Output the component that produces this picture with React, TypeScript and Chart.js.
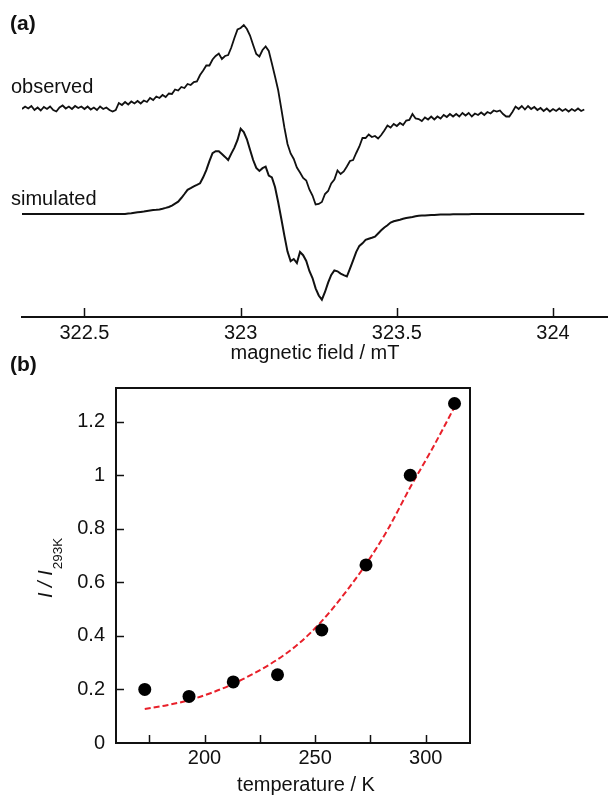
import React, { useEffect, useRef } from 'react';
import { Chart, registerables } from 'chart.js';

Chart.register(...registerables);

const FONT = '"Liberation Sans", Arial, Helvetica, sans-serif';
const INK = '#111111';

// ---------- Panel (a): EPR spectra ----------
const FIELD_START = 322.3; // mT, first sample
const FIELD_STEP = 0.01; // mT between samples
const OBSERVED = [
  1, 3.5, 1.5, 4, 0, 2.5, -0.5, 3, 1, 3.5,
  0, -1.5, 2.5, 4.5, 1.5, 3.5, 1, 4, 2, 3.5,
  1, 3.5, 0.5, 2.5, 0, 3.5, 1, 2.5, 0, -1.5,
  0, 7, 5, 8, 5.5, 8.5, 6.5, 9, 6.5, 9.5,
  8, 12, 10, 13.5, 12, 15, 13, 16.5, 16, 20.5,
  19.5, 23, 22, 26, 25, 28, 28.5, 35, 39.5, 44.5,
  44.5, 50.5, 54, 56.5, 51, 54, 55, 62.5, 72, 80.5,
  82, 85, 81, 74.5, 65, 56, 53.5, 60, 63.5, 59,
  46.5, 33.5, 20, 1.5, -17.5, -34, -43.5, -49, -57.5, -62.5,
  -68, -70.5, -79.5, -85.5, -94.5, -94, -92, -84, -81, -73.5,
  -69.5, -60.5, -64, -61.5, -56.5, -51, -50, -43, -36.5, -28,
  -28, -24.5, -27, -26, -28.5, -25, -20.5, -15.5, -17.5, -14,
  -16, -13, -15, -10.5, -10, -4, -8.5, -9, -11, -7.5,
  -9.5, -6.5, -9.5, -6.5, -8.5, -5, -7, -4, -6.5, -4,
  -6.5, -3, -5.5, -3, -6.5, -3.5, -5, -2.5, -5, -2,
  -3.5, -0.5, -1.5, -0.5, -4, -6.5, -6.5, -2, 3.5, 1,
  4, 0.5, 4, 1, 3, 0, 2, -1, 1.5, -1.5,
  1, -1, 1.5, -1, 1, -1.5, 1, -1, 1.5, -1, 0.5,
];
const SIMULATED = [
  0, 0, 0, 0, 0, 0, 0, 0, 0, 0,
  0, 0, 0, 0, 0, 0, 0, 0, 0, 0,
  0, 0, 0, 0, 0, 0, 0, 0, 0, 0,
  0, 0, 0, 0, 0.4, 0.8, 1.3, 1.7, 2.1, 2.5,
  3, 3.5, 3.9, 4.2, 4.6, 5.3, 6.1, 7, 8.4, 10.4,
  12.3, 16, 20, 24.2, 25.9, 27.7, 29.1, 30.7, 36.7, 43.8,
  52.8, 60.8, 62.8, 62.7, 60, 57.1, 54, 60.4, 66.4, 74.1,
  85.2, 82, 74.7, 64.3, 54, 46.1, 43, 45.8, 47.3, 38.5,
  36.6, 27, 12, -4.5, -21.6, -37.6, -47.1, -45, -49, -38,
  -41.2, -47, -57, -64, -74.3, -81.5, -85.7, -78, -68.7, -60.9,
  -56.5, -57.3, -59.6, -61.1, -62.5, -54.6, -46.4, -37.8, -31.9, -29.3,
  -25.8, -24.8, -23.8, -22.7, -19.5, -16.3, -13.5, -11.2, -8.6, -7.3,
  -6.5, -5.7, -4.8, -4.1, -3.5, -2.9, -2.2, -1.7, -1.5, -1.4,
  -1.2, -1, -0.9, -0.7, -0.6, -0.5, -0.5, -0.4, -0.3, -0.3,
  -0.3, -0.2, -0.2, -0.2, -0.1, -0.1, 0, 0, 0, 0,
  0, 0, 0, 0, 0, 0, 0, 0, 0, 0,
  0, 0, 0, 0, 0, 0, 0, 0, 0, 0,
  0, 0, 0, 0, 0, 0, 0, 0, 0, 0, 0,
];
const FIELD = OBSERVED.map((_, i) => +(FIELD_START + i * FIELD_STEP).toFixed(2));
const FIELD_TICKS = [322.5, 323, 323.5, 324];
const OBS_OFFSET = 207;
const SIM_OFFSET = 103;

// ---------- Panel (b): intensity vs temperature ----------
const TEMPERATURE = [173, 193, 213, 233, 253, 273, 293, 313];
const RATIO = [0.2, 0.174, 0.228, 0.255, 0.422, 0.665, 1.0, 1.268];
const FIT_TEMPERATURE = [173, 183, 193, 203, 213, 223, 233, 243, 253, 263, 273, 283, 293, 303, 313];
const FIT_RATIO = [0.127, 0.141, 0.16, 0.187, 0.221, 0.263, 0.312, 0.374, 0.455, 0.555, 0.668, 0.8, 0.955, 1.1, 1.255];
const TEMP_TICKS = [175, 200, 225, 250, 275, 300];
const TEMP_LABELS = [200, 250, 300];
const RATIO_TICKS = [0, 0.2, 0.4, 0.6, 0.8, 1, 1.2];

const tickFont = { size: 20, family: FONT };

function zeroPadding(s: any) {
  s.paddingTop = 0;
  s.paddingBottom = 0;
  s.paddingLeft = 0;
  s.paddingRight = 0;
}

const panelAPlugin = {
  id: 'panelA',
  afterDraw(chart: any) {
    const ctx = chart.ctx;
    const xs = chart.scales.x;
    const area = chart.chartArea;
    ctx.save();
    ctx.strokeStyle = INK;
    ctx.lineWidth = 1.5;
    FIELD_TICKS.forEach((v) => {
      const px = Math.round(xs.getPixelForValue(v)) + 0.5;
      ctx.beginPath();
      ctx.moveTo(px, area.bottom);
      ctx.lineTo(px, area.bottom - 9);
      ctx.stroke();
    });
    ctx.fillStyle = INK;
    ctx.textAlign = 'left';
    ctx.font = `bold 21px ${FONT}`;
    ctx.textBaseline = 'middle';
    ctx.fillText('(a)', 10, 24);
    ctx.fillText('(b)', 10, 365);
    ctx.font = `20px ${FONT}`;
    ctx.textBaseline = 'alphabetic';
    ctx.fillText('observed', 11, 93);
    ctx.fillText('simulated', 11, 205);
    ctx.restore();
  },
};

const panelBPlugin = {
  id: 'panelB',
  afterDraw(chart: any) {
    const ctx = chart.ctx;
    const xs = chart.scales.x;
    const ys = chart.scales.y;
    const a = chart.chartArea;
    ctx.save();
    ctx.strokeStyle = INK;
    ctx.lineWidth = 2;
    ctx.beginPath();
    ctx.moveTo(a.left, a.top);
    ctx.lineTo(a.right, a.top);
    ctx.lineTo(a.right, a.bottom);
    ctx.stroke();
    ctx.lineWidth = 1.5;
    TEMP_TICKS.forEach((v) => {
      const px = Math.round(xs.getPixelForValue(v)) + 0.5;
      ctx.beginPath();
      ctx.moveTo(px, a.bottom);
      ctx.lineTo(px, a.bottom - 8);
      ctx.stroke();
    });
    RATIO_TICKS.forEach((v) => {
      if (v === 0) return;
      const py = Math.round(ys.getPixelForValue(v)) + 0.5;
      ctx.beginPath();
      ctx.moveTo(a.left, py);
      ctx.lineTo(a.left + 8, py);
      ctx.stroke();
    });
    // x title
    ctx.fillStyle = INK;
    ctx.font = `20px ${FONT}`;
    ctx.textAlign = 'center';
    ctx.textBaseline = 'middle';
    ctx.fillText('temperature / K', 306, 405);
    // y title (rotated, with subscript)
    ctx.translate(52, 218);
    ctx.rotate(-Math.PI / 2);
    ctx.textAlign = 'left';
    ctx.textBaseline = 'alphabetic';
    ctx.font = `italic 20px ${FONT}`;
    const main = 'I / I';
    ctx.fillText(main, 0, 0);
    const w = ctx.measureText(main).width;
    ctx.font = `13.5px ${FONT}`;
    ctx.fillText('293K', w + 1, 10);
    ctx.restore();
  },
};

export default function App() {
  const refA = useRef<HTMLCanvasElement | null>(null);
  const refB = useRef<HTMLCanvasElement | null>(null);

  useEffect(() => {
    if (!refA.current || !refB.current) return;
    const chartA = new Chart(refA.current, {
      type: 'line',
      data: {
        datasets: [
          {
            label: 'observed',
            data: FIELD.map((x, i) => ({ x, y: OBS_OFFSET + OBSERVED[i] })),
            borderColor: INK,
            borderWidth: 1.8,
            pointRadius: 0,
            tension: 0,
          },
          {
            label: 'simulated',
            data: FIELD.map((x, i) => ({ x, y: SIM_OFFSET + SIMULATED[i] })),
            borderColor: INK,
            borderWidth: 2,
            pointRadius: 0,
            tension: 0,
          },
        ],
      },
      options: {
        animation: false,
        responsive: false,
        devicePixelRatio: 1,
        layout: { autoPadding: false, padding: { left: 22, right: 0, top: 0, bottom: 15 } },
        plugins: { legend: { display: false }, tooltip: { enabled: false } },
        scales: {
          x: {
            type: 'linear',
            min: 322.3,
            max: 324.176,
            grid: { display: false, drawTicks: false },
            border: { display: true, color: INK, width: 2 },
            afterBuildTicks: (s: any) => {
              s.ticks = FIELD_TICKS.map((v) => ({ value: v }));
            },
            ticks: {
              autoSkip: false,
              maxRotation: 0,
              padding: 4,
              color: INK,
              font: tickFont,
              callback: (v: any) => String(v),
            },
            title: {
              display: true,
              text: 'magnetic field / mT',
              color: INK,
              font: tickFont,
              padding: { top: 0, bottom: 0 },
            },
            afterFit: (s: any) => {
              s.height = 48;
              zeroPadding(s);
            },
          },
          y: { type: 'linear', min: 0, max: 317, display: false },
        },
      } as any,
      plugins: [panelAPlugin],
    });

    const chartB = new Chart(refB.current, {
      type: 'scatter',
      data: {
        datasets: [
          {
            type: 'scatter',
            label: 'data',
            data: TEMPERATURE.map((x, i) => ({ x, y: RATIO[i] })),
            pointRadius: 6.5,
            pointBackgroundColor: '#000',
            pointBorderWidth: 0,
            showLine: false,
          } as any,
          {
            type: 'line',
            label: 'fit',
            data: FIT_TEMPERATURE.map((x, i) => ({ x, y: FIT_RATIO[i] })),
            borderColor: '#e8202a',
            borderWidth: 2,
            borderDash: [6, 3],
            pointRadius: 0,
            fill: false,
            cubicInterpolationMode: 'monotone',
          } as any,
        ],
      },
      options: {
        animation: false,
        responsive: false,
        devicePixelRatio: 1,
        layout: { autoPadding: false, padding: { left: 0, right: 138, top: 8, bottom: 0 } },
        plugins: { legend: { display: false }, tooltip: { enabled: false } },
        scales: {
          x: {
            type: 'linear',
            min: 160,
            max: 320,
            grid: { display: false, drawTicks: false },
            border: { display: true, color: INK, width: 2 },
            afterBuildTicks: (s: any) => {
              s.ticks = TEMP_TICKS.map((v) => ({ value: v }));
            },
            ticks: {
              autoSkip: false,
              maxRotation: 0,
              padding: 3,
              color: INK,
              font: tickFont,
              callback: (v: any) => (TEMP_LABELS.includes(v) ? String(v) : ''),
            },
            afterFit: (s: any) => {
              s.height = 53;
              zeroPadding(s);
            },
          },
          y: {
            type: 'linear',
            min: 0,
            max: 1.326,
            grid: { display: false, drawTicks: false },
            border: { display: true, color: INK, width: 2 },
            afterBuildTicks: (s: any) => {
              s.ticks = RATIO_TICKS.map((v) => ({ value: v }));
            },
            ticks: {
              autoSkip: false,
              padding: 11,
              color: INK,
              font: tickFont,
              callback: (v: any) => String(v),
            },
            afterFit: (s: any) => {
              s.width = 116;
              zeroPadding(s);
            },
          },
        },
      } as any,
      plugins: [panelBPlugin],
    });

    return () => {
      chartA.destroy();
      chartB.destroy();
    };
  }, []);

  return (
    <div style={{ position: 'absolute', left: 0, top: 0, width: 608, height: 796, background: '#fff' }}>
      <canvas
        ref={refA}
        width={608}
        height={380}
        style={{ position: 'absolute', left: 0, top: 0, width: 608, height: 380 }}
      />
      <canvas
        ref={refB}
        width={608}
        height={416}
        style={{ position: 'absolute', left: 0, top: 380, width: 608, height: 416 }}
      />
    </div>
  );
}
